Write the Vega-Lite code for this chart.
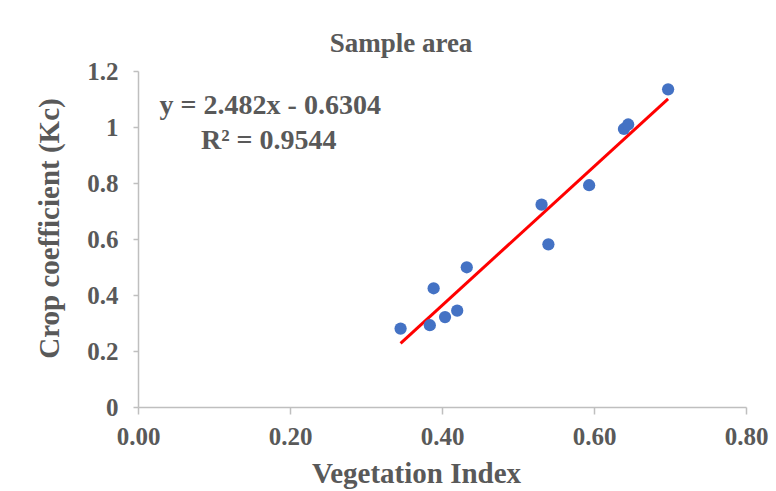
{
  "$schema": "https://vega.github.io/schema/vega-lite/v6.json",
  "width": 608,
  "height": 336,
  "autosize": {"type": "none"},
  "padding": {"left": 138, "top": 71, "right": 30, "bottom": 84},
  "background": "white",
  "title": {
    "text": "Sample area",
    "font": "Liberation Serif",
    "fontSize": 27,
    "fontWeight": "bold",
    "color": "#595959",
    "anchor": "middle",
    "frame": "group",
    "dx": -41,
    "offset": 1
  },
  "config": {
    "view": {"stroke": null},
    "axis": {
      "labelFont": "Liberation Serif",
      "labelFontSize": 25,
      "labelFontWeight": "bold",
      "labelColor": "#595959",
      "titleFont": "Liberation Serif",
      "titleFontSize": 29,
      "titleFontWeight": "bold",
      "titleColor": "#595959",
      "domainColor": "#BFBFBF",
      "domainWidth": 1.5,
      "tickColor": "#BFBFBF",
      "tickWidth": 1.5,
      "grid": false,
      "labelFlush": false,
      "labelOverlap": false
    }
  },
  "datasets": {
    "points": [
      {"vi": 0.3455, "kc": 0.280},
      {"vi": 0.384, "kc": 0.292},
      {"vi": 0.389, "kc": 0.424},
      {"vi": 0.404, "kc": 0.321},
      {"vi": 0.420, "kc": 0.344},
      {"vi": 0.4326, "kc": 0.499},
      {"vi": 0.531, "kc": 0.7225},
      {"vi": 0.540, "kc": 0.581},
      {"vi": 0.5936, "kc": 0.792},
      {"vi": 0.6394, "kc": 0.993},
      {"vi": 0.645, "kc": 1.009},
      {"vi": 0.6975, "kc": 1.1346}
    ],
    "trend": [
      {"vi": 0.3455, "kc": 0.2271},
      {"vi": 0.6975, "kc": 1.1008}
    ],
    "labels": [
      {"vi": 0.174, "kc": 1.075, "text": "y = 2.482x - 0.6304"},
      {"vi": 0.172, "kc": 0.95, "text": "R² = 0.9544"}
    ]
  },
  "layer": [
    {
      "data": {"name": "trend"},
      "mark": {"type": "line", "color": "#FF0000", "strokeWidth": 3},
      "encoding": {
        "x": {
          "field": "vi", "type": "quantitative",
          "scale": {"domain": [0, 0.8], "nice": false},
          "axis": {
            "title": "Vegetation Index",
            "values": [0, 0.2, 0.4, 0.6, 0.8],
            "format": ".2f",
            "tickSize": 7,
            "labelPadding": 10,
            "titlePadding": 10,
            "titleX": 278
          }
        },
        "y": {
          "field": "kc", "type": "quantitative",
          "scale": {"domain": [0, 1.2], "nice": false},
          "axis": {
            "title": "Crop coefficient (Kc)",
            "values": [0, 0.2, 0.4, 0.6, 0.8, 1, 1.2],
            "format": "~g",
            "tickSize": 5,
            "labelPadding": 15,
            "titlePadding": 22,
            "titleY": 157
          }
        }
      }
    },
    {
      "data": {"name": "points"},
      "mark": {"type": "circle", "color": "#4472C4", "opacity": 1, "size": 150},
      "encoding": {
        "x": {"field": "vi", "type": "quantitative"},
        "y": {"field": "kc", "type": "quantitative"}
      }
    },
    {
      "data": {"name": "labels"},
      "mark": {"type": "text", "font": "Liberation Serif", "fontSize": 28, "fontWeight": "bold", "color": "#595959", "align": "center", "baseline": "middle"},
      "encoding": {
        "x": {"field": "vi", "type": "quantitative"},
        "y": {"field": "kc", "type": "quantitative"},
        "text": {"field": "text"}
      }
    }
  ]
}
